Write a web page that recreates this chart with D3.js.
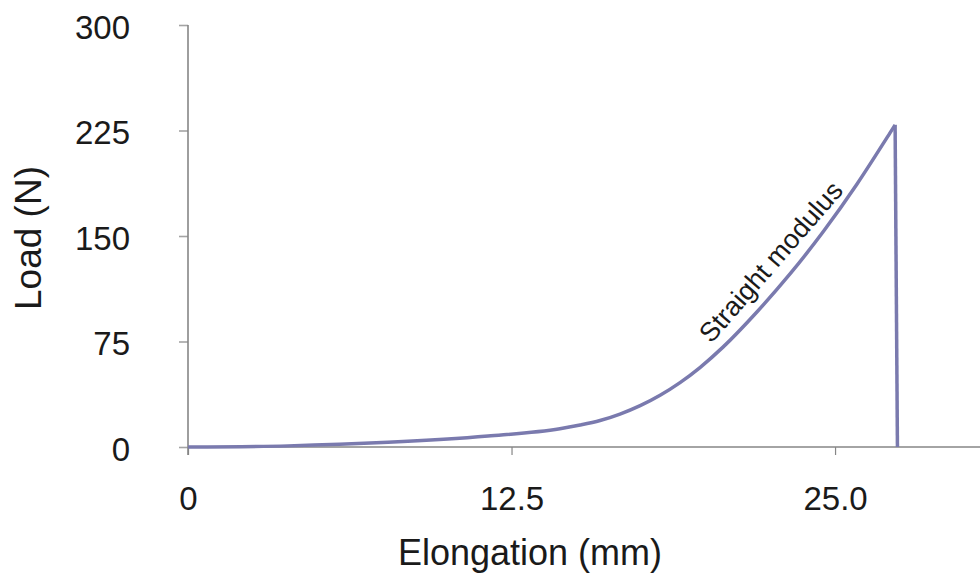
<!DOCTYPE html>
<html>
<head>
<meta charset="utf-8">
<script src="https://cdn.jsdelivr.net/npm/d3@7"></script>
<style>
  html, body { margin: 0; padding: 0; background: #fff; }
  svg text { font-family: "Liberation Sans", Arial, Helvetica, sans-serif; fill: #1a1a1a; }
</style>
</head>
<body>
<svg id="chart" width="980" height="575"></svg>
<script>
// Load–elongation record of a tensile test
const elongation = [0, 3.86, 7.73, 11.59, 14.37, 15.15, 15.92, 16.69, 17.47, 18.24, 19.01, 19.78, 20.67, 21.98, 23.26, 24.54, 25.85, 27.13, 27.32];
const load =       [0, 0.8,  3.3,  7.8,   13.0,  15.6,  18.8,  23.4,  29.4,  36.8,  45.8,  56.5,  71,    96,    123,   153,   187,   223.5, 229];
// Specimen break: load falls straight back to zero
const breakElongation = [27.32, 27.41];
const breakLoad = [229, 0];

const xTickValues = [0, 12.5, 25];
const xTickLabels = ["0", "12.5", "25.0"];
const yTickValues = [0, 75, 150, 225, 300];
const yTickLabels = ["0", "75", "150", "225", "300"];

const xTitle = "Elongation (mm)";
const yTitle = "Load (N)";
const curveLabel = "Straight modulus";

const svg = d3.select("#chart");
const x = d3.scaleLinear().domain([0, 30.6]).range([188, 980]);
const y = d3.scaleLinear().domain([0, 300]).range([447, 25]);

const axisColor = "#868686";
const curveColor = "#7a7aae";

// X axis
const xAxis = svg.append("g").attr("transform", `translate(0,${y(0)})`)
  .call(d3.axisBottom(x).tickValues(xTickValues).tickSize(8).tickFormat((d, i) => xTickLabels[i]).tickPadding(32));
xAxis.select(".domain").remove();
xAxis.selectAll(".tick line").attr("stroke", axisColor).attr("stroke-width", 1.2);
xAxis.selectAll(".tick text").attr("font-size", 33).attr("fill", "#1a1a1a")
  .attr("font-family", "Liberation Sans, Arial, sans-serif");
svg.append("line")
  .attr("x1", x(0)).attr("x2", 980).attr("y1", y(0)).attr("y2", y(0))
  .attr("stroke", axisColor).attr("stroke-width", 1.6);

// Y axis
const yAxis = svg.append("g").attr("transform", `translate(${x(0)},0)`)
  .call(d3.axisLeft(y).tickValues(yTickValues).tickSize(9).tickFormat((d, i) => yTickLabels[i]).tickPadding(49));
yAxis.select(".domain").remove();
yAxis.selectAll(".tick line").attr("stroke", "#a4a4a4").attr("stroke-width", 1.6);
yAxis.selectAll(".tick text").attr("font-size", 33).attr("fill", "#1a1a1a")
  .attr("font-family", "Liberation Sans, Arial, sans-serif").attr("dy", "0.4em");
svg.append("line")
  .attr("x1", x(0)).attr("x2", x(0)).attr("y1", y(300)).attr("y2", y(0) + 8)
  .attr("stroke", axisColor).attr("stroke-width", 1.6);

// Curve
const pts = elongation.map((e, i) => [e, load[i]]);
const line = d3.line().x(d => x(d[0])).y(d => y(d[1])).curve(d3.curveMonotoneX);
svg.append("path")
  .attr("d", line(pts))
  .attr("fill", "none").attr("stroke", curveColor).attr("stroke-width", 3.5)
  .attr("stroke-linejoin", "round");
const brk = breakElongation.map((e, i) => [e, breakLoad[i]]);
svg.append("path")
  .attr("d", d3.line().x(d => x(d[0])).y(d => y(d[1]))(brk))
  .attr("fill", "none").attr("stroke", curveColor).attr("stroke-width", 3.5)
  .attr("stroke-linejoin", "round");

// Label along the rising part of the curve
svg.append("text")
  .attr("transform", `translate(${x(20.22)},${y(73)}) rotate(-49)`)
  .attr("font-size", 27)
  .text(curveLabel);

// Axis titles
svg.append("text")
  .attr("x", 530).attr("y", 565)
  .attr("text-anchor", "middle").attr("font-size", 36)
  .text(xTitle);
svg.append("text")
  .attr("transform", "translate(41,238) rotate(-90)")
  .attr("text-anchor", "middle").attr("font-size", 37)
  .text(yTitle);
</script>
</body>
</html>
